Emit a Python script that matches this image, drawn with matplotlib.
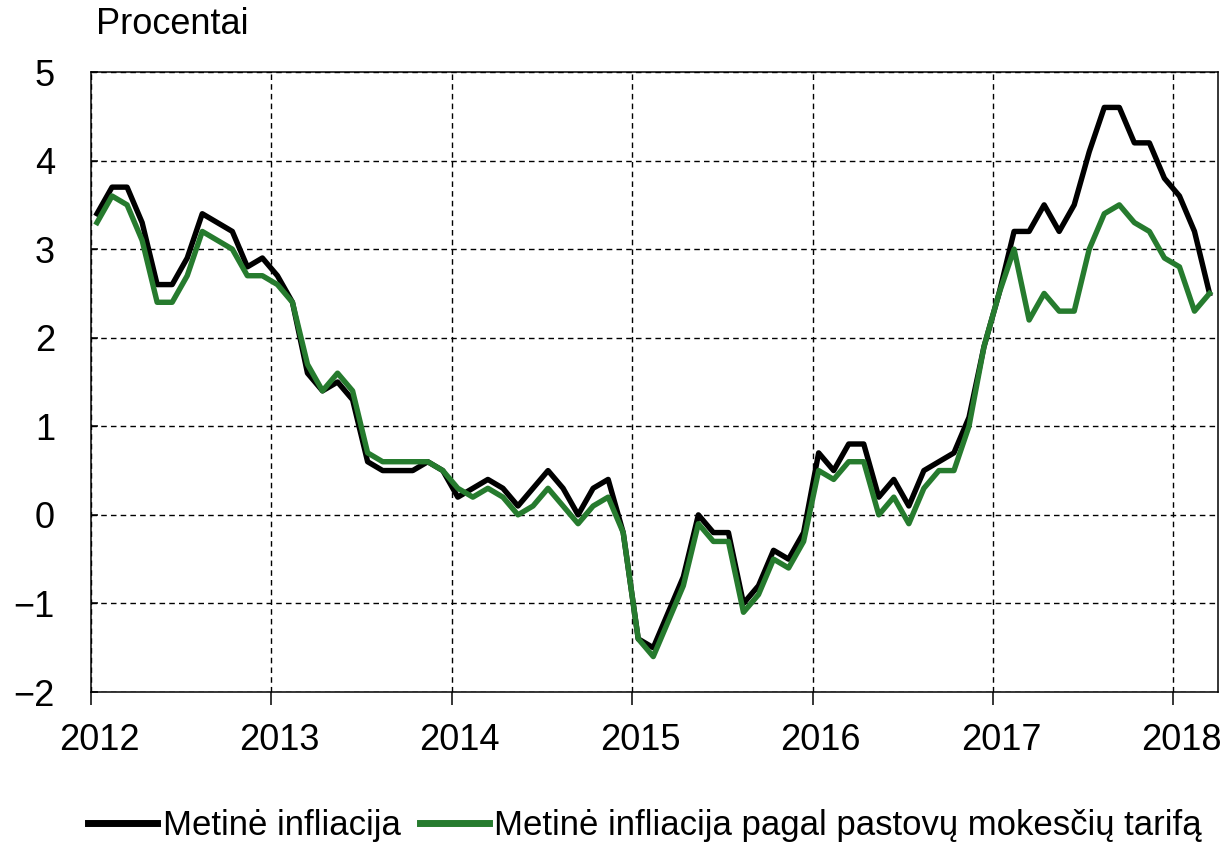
import matplotlib
matplotlib.use("Agg")
import matplotlib.pyplot as plt
import matplotlib.transforms as mtransforms
import numpy as np

# monthly data, Jan 2012 - Mar 2018
start_year = 2012
metine = [3.4, 3.7, 3.7, 3.3, 2.6, 2.6, 2.9, 3.4, 3.3, 3.2, 2.8, 2.9,
          2.7, 2.4, 1.6, 1.4, 1.5, 1.3, 0.6, 0.5, 0.5, 0.5, 0.6, 0.5,
          0.2, 0.3, 0.4, 0.3, 0.1, 0.3, 0.5, 0.3, 0.0, 0.3, 0.4, -0.2,
          -1.4, -1.5, -1.1, -0.7, 0.0, -0.2, -0.2, -1.0, -0.8, -0.4, -0.5, -0.2,
          0.7, 0.5, 0.8, 0.8, 0.2, 0.4, 0.1, 0.5, 0.6, 0.7, 1.1, 1.9,
          2.5, 3.2, 3.2, 3.5, 3.2, 3.5, 4.1, 4.6, 4.6, 4.2, 4.2, 3.8,
          3.6, 3.2, 2.5]
pastovus = [3.3, 3.6, 3.5, 3.1, 2.4, 2.4, 2.7, 3.2, 3.1, 3.0, 2.7, 2.7,
            2.6, 2.4, 1.7, 1.4, 1.6, 1.4, 0.7, 0.6, 0.6, 0.6, 0.6, 0.5,
            0.3, 0.2, 0.3, 0.2, 0.0, 0.1, 0.3, 0.1, -0.1, 0.1, 0.2, -0.2,
            -1.4, -1.6, -1.2, -0.8, -0.1, -0.3, -0.3, -1.1, -0.9, -0.5, -0.6, -0.3,
            0.5, 0.4, 0.6, 0.6, 0.0, 0.2, -0.1, 0.3, 0.5, 0.5, 1.0, 1.9,
            2.5, 3.0, 2.2, 2.5, 2.3, 2.3, 3.0, 3.4, 3.5, 3.3, 3.2, 2.9,
            2.8, 2.3, 2.5]
years = [2012, 2013, 2014, 2015, 2016, 2017, 2018]
yticks = [-2, -1, 0, 1, 2, 3, 4, 5]

plt.rcParams['font.family'] = ['Liberation Sans', 'DejaVu Sans']

# each month drawn a bit into its own month
x = start_year + (np.arange(len(metine)) + 0.4) / 12

fig = plt.figure(figsize=(12.26, 8.49), dpi=100)
ax = fig.add_axes([91 / 1226, 1 - 692 / 849, 1127 / 1226, 620 / 849])

ax.plot(x, metine, color='black', lw=3.9, label="Metinė infliacija", zorder=3)
ax.plot(x, pastovus, color='#267B2E', lw=3.9,
        label="Metinė infliacija pagal pastovų mokesčių tarifą", zorder=4)

ax.set_xlim(2012, 2018.247)
ax.set_ylim(-2, 5)
ax.set_xticks(years)
ax.set_yticks(yticks)
ax.grid(True, color='black', linestyle=(0, (4, 3)), lw=1.0)
ax.tick_params(axis='both', labelsize=26, width=1.1)
ax.tick_params(axis='y', direction='in', length=5, pad=26)
ax.tick_params(axis='x', direction='out', length=9.5, pad=13)
for s in ax.spines.values():
    s.set_linewidth(1.1)

# year labels sit a little right of their ticks in the original
shift = mtransforms.ScaledTranslation(8 / 100, 0, fig.dpi_scale_trans)
for lbl in ax.get_xticklabels():
    lbl.set_transform(lbl.get_transform() + shift)

fig.text(96 / 1226, 1 - 25 / 849, "Procentai", fontsize=26, va='center', ha='left')

leg = fig.legend(loc='center left', bbox_to_anchor=(88 / 1226, 1 - 826 / 849), ncol=2,
                 frameon=False, fontsize=25, handlelength=2.0, handletextpad=0.15,
                 columnspacing=0.55, borderaxespad=0, borderpad=0)
for ln in leg.get_lines():
    ln.set_linewidth(5)

fig.savefig("out.png", dpi=100)
